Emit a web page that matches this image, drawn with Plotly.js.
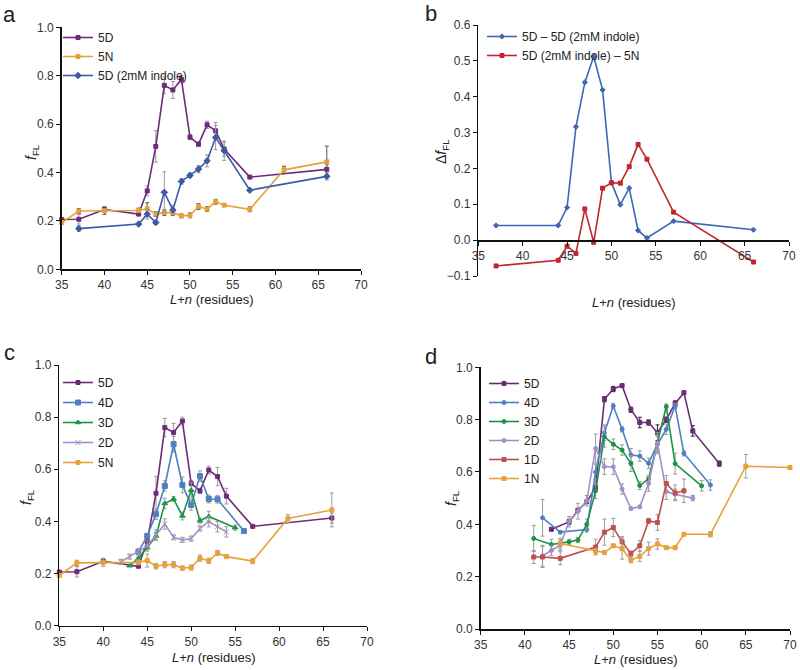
<!DOCTYPE html>
<html>
<head>
<meta charset="utf-8">
<script src="https://cdn.plot.ly/plotly-3.0.1.min.js"></script>
<style>html,body{margin:0;padding:0;background:#fff;}#chart{width:800px;height:670px;}</style>
</head>
<body>
<div id="chart"></div>
<script>
// ---------- Panel a ----------
var xA5D = [35,37,40,44,45,46,47,48,49,50,51,52,53,54,57,66];
var yA5D = [0.206,0.207,0.247,0.228,0.324,0.508,0.76,0.741,0.785,0.546,0.517,0.597,0.572,0.497,0.381,0.413];
var eA5D = [0,0.02,0.012,0.005,0.02,0.065,0.035,0.035,0.015,0.01,0.01,0.015,0.035,0.03,0,0.02];

var xA5N = [35,37,40,44,45,46,47,48,49,50,51,52,53,54,57,61,66];
var yA5N = [0.193,0.241,0.242,0.243,0.25,0.228,0.234,0.234,0.221,0.223,0.259,0.249,0.279,0.265,0.248,0.411,0.444];
var eA5N = [0,0.01,0.015,0.01,0.025,0.01,0.012,0.012,0.008,0.01,0.012,0.01,0.01,0.005,0.01,0.015,0.065];

var xAInd = [37,44,45,46,47,48,49,50,51,52,53,54,57,66];
var yAInd = [0.168,0.187,0.228,0.193,0.318,0.245,0.363,0.388,0.414,0.448,0.545,0.49,0.327,0.384];
var eAInd = [0.012,0,0.02,0.005,0.085,0.02,0.012,0.01,0.015,0.025,0.05,0.04,0,0.015];

// ---------- Panel b ----------
var xB = [37,44,45,46,47,48,49,50,51,52,53,54,57,66];
var yBDiff1 = [0.041,0.041,0.091,0.316,0.44,0.512,0.419,0.16,0.099,0.145,0.027,0.006,0.053,0.029];
var yBDiff2 = [-0.072,-0.056,-0.017,-0.037,0.087,-0.006,0.145,0.16,0.159,0.205,0.267,0.226,0.078,-0.061];

// ---------- Panel c ----------
var xC4D = [44,45,46,47,48,49,50,51,52,53,56];
var yC4D = [0.284,0.344,0.428,0.536,0.696,0.54,0.463,0.574,0.486,0.485,0.363];
var eC4D = [0.01,0.01,0.02,0.02,0.03,0.03,0.02,0.02,0.015,0.015,0];

var xC3D = [43,44,45,46,47,48,49,50,51,52,55];
var yC3D = [0.23,0.258,0.30,0.344,0.469,0.486,0.421,0.52,0.403,0.419,0.376];
var eC3D = [0,0.01,0.01,0.015,0.02,0.01,0.015,0.03,0.01,0.02,0.01];

var xC2D = [42,43,44,45,46,47,48,49,50,51,52,53,54];
var yC2D = [0.245,0.265,0.284,0.306,0.348,0.39,0.339,0.329,0.334,0.373,0.399,0.38,0.36];
var eC2D = [0.01,0.01,0.01,0.02,0.02,0.02,0.01,0.01,0.01,0.01,0.02,0.02,0.02];

// ---------- Panel d ----------
var xD5D = [43,45,46,47,48,49,50,51,52,53,54,55,56,57,58,59,62];
var yD5D = [0.381,0.409,0.454,0.486,0.54,0.878,0.917,0.93,0.838,0.789,0.789,0.75,0.80,0.862,0.903,0.757,0.632];
var eD5D = [0.005,0.01,0.005,0.005,0.01,0.01,0.01,0.005,0.01,0.02,0.01,0.03,0.01,0.01,0.005,0.02,0.01];

var xD4D = [42,44,47,48,49,50,51,52,53,54,55,56,57,58,61];
var yD4D = [0.425,0.37,0.38,0.60,0.75,0.852,0.763,0.665,0.661,0.633,0.706,0.763,0.852,0.671,0.55];
var eD4D = [0.07,0.005,0.01,0.03,0.03,0.01,0.01,0.025,0.02,0.02,0.03,0.02,0.01,0.01,0.02];

var xD3D = [41,43,45,46,47,48,49,50,51,52,53,54,56,57,60];
var yD3D = [0.346,0.323,0.333,0.34,0.40,0.528,0.735,0.706,0.684,0.632,0.548,0.574,0.85,0.632,0.547];
var eD3D = [0.05,0.02,0.01,0.01,0.02,0.03,0.04,0.02,0.02,0.03,0.015,0.01,0.01,0.04,0.02];

var xD2D = [42,43,44,45,46,47,48,49,50,51,52,53,54,55,56,57,59];
var yD2D = [0.28,0.30,0.32,0.41,0.45,0.49,0.69,0.62,0.62,0.535,0.46,0.467,0.556,0.71,0.525,0.515,0.50];
var eD2D = [0.04,0.02,0.02,0.02,0.03,0.02,0.055,0.03,0.03,0.02,0.005,0.005,0.03,0.04,0.03,0.02,0.01];

var xD1D = [41,42,44,48,49,50,51,52,53,54,55,56,57,58];
var yD1D = [0.275,0.275,0.27,0.313,0.37,0.388,0.333,0.288,0.318,0.413,0.407,0.556,0.52,0.528];
var eD1D = [0.025,0.04,0.025,0.03,0.05,0.035,0.02,0.01,0.02,0.01,0.03,0.03,0.03,0.045];

var xD1N = [44,48,49,50,51,52,53,54,55,56,57,58,61,65,70];
var yD1N = [0.327,0.298,0.292,0.318,0.307,0.263,0.278,0.307,0.325,0.311,0.311,0.362,0.362,0.622,0.617];
var eD1N = [0.02,0.01,0,0.005,0.04,0.01,0.02,0.025,0.02,0,0,0,0.01,0.045,0.005];

var tickVals = [35,40,45,50,55,60,65,70];

// colours
var cPurple = '#6c2c78', cOrange = '#e8a03a', cIndole = '#3b5ba6';
var cBlueB = '#3d68b3', cRedB = '#c1272d';
var c4D = '#4f7fc1', c3D = '#1b9447', c2D = '#a08fc9', c1D = '#c0504d';

function tr(x, y, e, name, color, symbol, size, ax, lg, errColor, group) {
  var t = {
    x: x, y: y, name: name, type: 'scatter', mode: 'lines+markers',
    xaxis: 'x' + ax, yaxis: 'y' + ax, legend: lg,
    line: {color: color, width: 1.6},
    marker: {color: color, symbol: symbol, size: size, line: {color: color, width: 1}},
    cliponaxis: false
  };
  if (e) t.error_y = {type: 'data', array: e, visible: true, color: errColor || '#9a9a9a', thickness: 1, width: 2};
  if (group) t.legendgroup = group;
  return t;
}

var data = [
  // a
  tr(xA5D, yA5D, eA5D, '5D', cPurple, 'square', 4, '', 'legend'),
  tr(xA5N, yA5N, eA5N, '5N', cOrange, 'square', 4, '', 'legend', '#555'),
  tr(xAInd, yAInd, eAInd, '5D (2mM indole)', cIndole, 'diamond', 5, '', 'legend'),
  // b
  tr(xB, yBDiff1, null, '5D \u2013 5D (2mM indole)', cBlueB, 'diamond', 4, '2', 'legend2'),
  tr(xB, yBDiff2, null, '5D (2mM indole) \u2013 5N', cRedB, 'square', 4, '2', 'legend2'),
  // c
  tr(xA5D, yA5D, eA5D, '5D', cPurple, 'square', 4, '3', 'legend3', null, 'c1'),
  tr(xC4D, yC4D, eC4D, '4D', c4D, 'square', 5, '3', 'legend3', null, 'c2'),
  tr(xC3D, yC3D, eC3D, '3D', c3D, 'triangle-up', 5, '3', 'legend3', null, 'c3'),
  tr(xC2D, yC2D, eC2D, '2D', c2D, 'x-thin', 5, '3', 'legend3', null, 'c4'),
  tr(xA5N, yA5N, eA5N, '5N', cOrange, 'square', 4, '3', 'legend3', null, 'c5'),
  // d
  tr(xD5D, yD5D, eD5D, '5D', cPurple, 'square', 4, '4', 'legend4', '#222'),
  tr(xD4D, yD4D, eD4D, '4D', c4D, 'circle', 4, '4', 'legend4'),
  tr(xD3D, yD3D, eD3D, '3D', c3D, 'circle', 4, '4', 'legend4'),
  tr(xD2D, yD2D, eD2D, '2D', c2D, 'circle', 4, '4', 'legend4'),
  tr(xD1D, yD1D, eD1D, '1D', c1D, 'square', 4, '4', 'legend4'),
  tr(xD1N, yD1N, eD1N, '1N', cOrange, 'square', 4, '4', 'legend4')
];

var W = 800, H = 670;
function px(v) { return v / W; }
function py(v) { return 1 - v / H; }

var fontFam = 'Liberation Sans, Arial, sans-serif';
function xax(dom, extra) {
  var o = {
    domain: dom, range: [35, 70], tickvals: tickVals, showline: true, linecolor: '#111', linewidth: 1.5,
    ticks: 'outside', ticklen: 4, tickcolor: '#111', tickwidth: 1, showgrid: false, zeroline: false,
    tickfont: {size: 12, color: '#333', family: fontFam}, fixedrange: true
  };
  for (var k in extra) o[k] = extra[k];
  return o;
}
function yax(dom, range, dtick, extra) {
  var o = {
    domain: dom, range: range, dtick: dtick, tick0: 0, tickformat: '.1f', showline: true, linecolor: '#111', linewidth: 1.5,
    ticks: 'outside', ticklen: 4, tickcolor: '#111', tickwidth: 1, showgrid: false, zeroline: false,
    tickfont: {size: 12, color: '#333', family: fontFam}, fixedrange: true
  };
  for (var k in extra) o[k] = extra[k];
  return o;
}

var domAy = [py(269.3), py(27.3)];
var domBy = [py(276), py(25)];
var domCy = [py(625.7), py(365)];
var domDy = [py(629), py(367.3)];
var bZeroPos = domBy[0] + (domBy[1] - domBy[0]) * (0.1 / 0.7);

var fTitle = '<i>f</i><sub>FL</sub>';
var xTitle = '<i>L</i>+<i>n</i> (residues)';
var legFont = {size: 12, color: '#222', family: fontFam};

function ann(text, x, y, size, angle) {
  return {text: text, x: px(x), y: py(y), xref: 'paper', yref: 'paper', xanchor: 'center', yanchor: 'middle',
          showarrow: false, textangle: angle || 0, font: {size: size, color: '#222', family: fontFam}};
}

var layout = {
  width: W, height: H, margin: {l: 0, r: 0, t: 0, b: 0},
  paper_bgcolor: '#fff', plot_bgcolor: 'rgba(0,0,0,0)',
  font: {family: fontFam, color: '#222'},
  xaxis: xax([px(61.7), px(361)], {anchor: 'y'}),
  yaxis: yax(domAy, [0, 1], 0.2, {anchor: 'x'}),
  xaxis2: xax([px(478.3), px(789)], {anchor: 'free', position: bZeroPos}),
  yaxis2: yax(domBy, [-0.1, 0.6], 0.1, {anchor: 'x2'}),
  xaxis3: xax([px(59.3), px(367)], {anchor: 'y3'}),
  yaxis3: yax(domCy, [0, 1], 0.2, {anchor: 'x3'}),
  xaxis4: xax([px(480.7), px(790)], {anchor: 'y4'}),
  yaxis4: yax(domDy, [0, 1], 0.2, {anchor: 'x4'}),
  showlegend: true,
  legend: {x: px(58), y: py(23), xanchor: 'left', yanchor: 'top', bgcolor: 'rgba(0,0,0,0)', font: legFont, itemwidth: 30},
  legend2: {x: px(482), y: py(22), xanchor: 'left', yanchor: 'top', bgcolor: 'rgba(0,0,0,0)', font: legFont, itemwidth: 30},
  legend3: {x: px(58), y: py(368), xanchor: 'left', yanchor: 'top', bgcolor: 'rgba(0,0,0,0)', font: legFont, itemwidth: 30, tracegroupgap: 1},
  legend4: {x: px(484), y: py(369), xanchor: 'left', yanchor: 'top', bgcolor: 'rgba(0,0,0,0)', font: legFont, itemwidth: 30},
  annotations: [
    ann('a', 9, 15, 22), ann('b', 431, 14, 22), ann('c', 9, 352, 22), ann('d', 431, 356, 22),
    ann(xTitle, 211, 299, 13), ann(xTitle, 633, 303, 13), ann(xTitle, 213, 657, 13), ann(xTitle, 635, 659, 13),
    ann(fTitle, 32, 152, 14, -90), ann('\u0394' + fTitle, 442, 152, 14, -90),
    ann(fTitle, 27, 497, 14, -90), ann(fTitle, 452, 498, 14, -90)
  ]
};

Plotly.newPlot('chart', data, layout, {displayModeBar: false, staticPlot: true});
</script>
</body>
</html>
